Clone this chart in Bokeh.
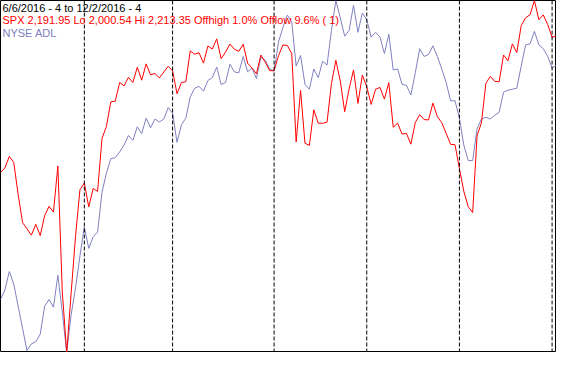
import pandas as pd
from bokeh.plotting import figure
from bokeh.models import Range1d, LinearAxis, Span, Label, ColumnDataSource
from bokeh.embed import file_html
from bokeh.resources import INLINE

# ---- data ----
holidays = ["2016-07-04", "2016-09-05", "2016-11-24"]
dates = [d for d in pd.bdate_range("2016-06-06", "2016-12-02") if d.strftime("%Y-%m-%d") not in holidays]

spx = [2109.41, 2112.13, 2119.12, 2115.48, 2096.07, 2079.06, 2075.32, 2071.50, 2077.99, 2071.22,
       2083.25, 2088.90, 2085.45, 2113.32, 2037.41, 2000.54, 2036.09, 2070.77, 2098.86, 2102.95,
       2088.55, 2099.73, 2097.90, 2129.90, 2137.16, 2152.14, 2152.43, 2163.75, 2161.74, 2166.89,
       2163.78, 2173.02, 2165.17, 2175.03, 2168.48, 2169.18, 2166.58, 2170.06, 2173.60, 2170.84,
       2157.03, 2163.79, 2164.25, 2182.87, 2180.89, 2181.74, 2175.49, 2185.79, 2184.05, 2190.15,
       2178.15, 2182.22, 2187.02, 2183.87, 2182.64, 2186.90, 2175.44, 2172.47, 2169.04, 2180.38,
       2176.12, 2170.95, 2170.86, 2179.98, 2186.48, 2186.16, 2181.30, 2127.81, 2159.04, 2127.02,
       2125.77, 2147.26, 2139.16, 2139.12, 2139.76, 2163.12, 2177.18, 2164.69, 2146.10, 2159.93,
       2171.37, 2151.13, 2168.27, 2161.20, 2150.49, 2159.73, 2160.77, 2153.74, 2163.66, 2136.73,
       2139.18, 2132.55, 2132.98, 2126.50, 2139.60, 2144.29, 2141.34, 2141.16, 2151.33, 2143.16,
       2139.43, 2133.04, 2126.41, 2126.15, 2111.72, 2097.94, 2088.66, 2085.18, 2131.52, 2139.56,
       2163.26, 2167.48, 2164.45, 2164.20, 2180.39, 2176.94, 2187.12, 2181.90, 2198.18, 2202.94,
       2204.72, 2213.35, 2201.72, 2204.66, 2198.81, 2191.08, 2191.95]

# NYSE advance-decline line, relative units
adl = [56, 66, 85, 72, 49, 26, 3, 10, 12, 20,
       49, 56, 48, 81, 43, 1, 40, 68, 101, 131,
       109, 121, 126, 167, 187, 202, 203, 209, 216, 226,
       221, 235, 228, 244, 234, 243, 240, 243, 255, 249,
       219, 237, 244, 266, 275, 277, 272, 283, 286, 297,
       279, 281, 300, 292, 291, 308, 292, 296, 285, 307,
       304, 295, 293, 323, 338, 351, 344, 298, 309, 279,
       274, 295, 286, 303, 299, 335, 366, 348, 329, 335,
       361, 333, 353, 346, 328, 333, 328, 311, 331, 294,
       295, 279, 278, 268, 291, 316, 308, 310, 319, 308,
       295, 281, 262, 262, 244, 216, 200, 200, 233, 243,
       245, 243, 247, 250, 271, 273, 274, 275, 298, 320,
       321, 334, 320, 316, 308, 296, 299]

title_lines = [
    ("6/6/2016 - 4 to 12/2/2016 - 4", "black"),
    ("SPX 2,191.95 Lo 2,000.54 Hi 2,213.35  Offhigh 1.0%  Offlow 9.6% ( 1)", "#ff0000"),
    ("NYSE ADL", "#8080c0"),
]

idx = list(range(len(spx)))
month_starts = [i for i in range(1, len(dates)) if dates[i].month != dates[i - 1].month]

W, H = 556, 352
p = figure(width=W, height=H, output_backend="svg", toolbar_location=None,
           x_range=Range1d(0, len(spx) - 1),
           y_range=Range1d(min(spx), max(spx)),
           x_axis_type=None, y_axis_type=None, min_border=0)
p.extra_y_ranges = {"adl": Range1d(min(adl), max(adl))}
p.grid.visible = False
p.outline_line_color = "black"
p.outline_line_width = 1
p.background_fill_color = "white"
p.border_fill_color = "white"

for m in month_starts:
    p.add_layout(Span(location=m, dimension="height", line_color="black",
                      line_dash="4 2", line_width=1))

src = ColumnDataSource(dict(x=idx, spx=spx, adl=adl))
p.line("x", "adl", source=src, y_range_name="adl", line_color="#8080c0", line_width=1)
p.line("x", "spx", source=src, line_color="#ff0000", line_width=1)

tops = [H - 1, H - 13, H - 26]
for (txt, col), y in zip(title_lines, tops):
    p.add_layout(Label(x=2, y=y, x_units="screen", y_units="screen", text=txt,
                       text_color=col, text_font="Liberation Sans", text_font_size="11px",
                       text_baseline="top", text_align="left"))

open("out.html", "w").write(file_html(p, INLINE))
